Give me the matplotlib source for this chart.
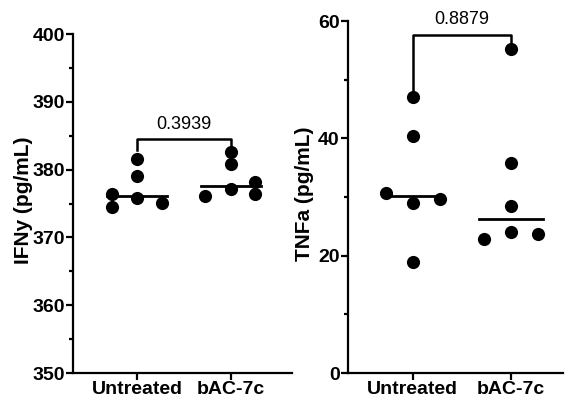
import numpy as np
import matplotlib
matplotlib.use("Agg")
from matplotlib import pyplot as plt
from matplotlib.ticker import MultipleLocator

plt.rcParams['font.family'] = ['Liberation Sans', 'DejaVu Sans']

grupos = ["Untreated", "bAC-7c"]

# IFNy (pg/mL)
ifn_untreated = [374.5, 376.4, 381.6, 379.1, 375.8, 375.1]
ifn_bac = [376.1, 382.6, 380.8, 377.1, 378.2, 376.4]
p_ifn = "0.3939"

# TNFa (pg/mL)
tnf_untreated = [47.0, 40.4, 30.6, 29.0, 29.6, 18.9]
tnf_bac = [55.3, 35.8, 28.4, 22.8, 24.1, 23.7]
p_tnf = "0.8879"

# desplazamiento horizontal de cada punto (tipo scatter de Prism)
off_ifn = [[-0.27, -0.27, 0, 0, 0, 0.27], [-0.28, 0, 0, 0, 0.26, 0.26]]
off_tnf = [[0, 0, -0.27, 0, 0.28, 0], [0, 0, 0, -0.28, 0, 0.28]]


def panel(ax, datos, offs, ylim, major, minor, ylabel, pval, brk, xlim, half, labx):
    for i, (vals, off) in enumerate(zip(datos, offs)):
        ax.scatter(np.array(off) + i, vals, s=90, color='black', zorder=3,
                   clip_on=False, linewidths=0)
        med = np.median(vals)
        ax.plot([i - half[i], i + half[i]], [med, med], color='black', lw=2, zorder=2)
    # corchete con p-valor
    y_top, y_l, y_r, y_txt = brk
    ax.plot([0, 0, 1, 1], [y_l, y_top, y_top, y_r], color='black', lw=1.8,
            clip_on=False)
    ax.text(0.5, y_txt, pval, ha='center', va='center', fontsize=13)
    ax.set_xlim(*xlim)
    ax.set_ylim(*ylim)
    ax.set_xticks([0, 1])
    ax.set_xticklabels(grupos, fontsize=14, fontweight='bold')
    ax.yaxis.set_major_locator(MultipleLocator(major))
    ax.yaxis.set_minor_locator(MultipleLocator(minor))
    for lab in ax.get_yticklabels():
        lab.set_fontweight('bold')
        lab.set_fontsize(14)
    ax.set_ylabel(ylabel, fontsize=15, fontweight='bold')
    ax.yaxis.set_label_coords(labx, 0.51)
    ax.spines['top'].set_visible(False)
    ax.spines['right'].set_visible(False)
    ax.spines['left'].set_linewidth(1.6)
    ax.spines['bottom'].set_linewidth(1.6)
    ax.tick_params(which='major', length=5, width=1.6, pad=1)
    ax.tick_params(which='minor', length=3, width=1.6)
    ax.tick_params(axis='x', which='minor', bottom=False)


fig = plt.figure(figsize=(5.67, 4.01), dpi=100)
ax1 = fig.add_axes([0.1287, 0.0698, 0.3862, 0.8452])
ax2 = fig.add_axes([0.6138, 0.0698, 0.3792, 0.8778])

panel(ax1, [ifn_untreated, ifn_bac], off_ifn, (350, 400), 10, 5,
      "IFNy (pg/mL)", p_ifn, (384.5, 382.9, 382.9, 386.6),
      (-0.68, 1.65), [0.32, 0.32], -0.183)
panel(ax2, [tnf_untreated, tnf_bac], off_tnf, (0, 60), 20, 10,
      "TNFa (pg/mL)", p_tnf, (57.7, 47.8, 56.2, 60.2),
      (-0.66, 1.53), [0.28, 0.33], -0.158)

fig.savefig("out.png", dpi=100)
